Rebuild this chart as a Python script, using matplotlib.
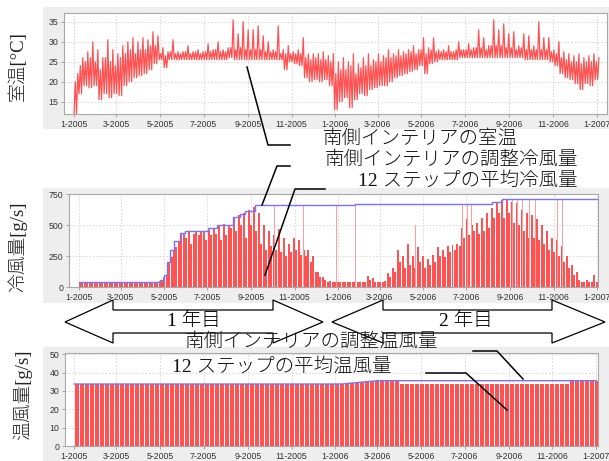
import numpy as np
import matplotlib
matplotlib.use('Agg')
import matplotlib.pyplot as plt
import matplotlib.dates as mdates
from matplotlib.patches import Rectangle, Polygon
from matplotlib.lines import Line2D

W, H = 609, 461

# ---------------- data ----------------
start = mdates.datestr2num('2005-01-01')
weeks = np.arange(105)          # weekly steps, 2005-01-01 .. 2006-12-30

# room temperature per week: low, typical upper level, spike high [deg C]
temp_lo = [12, 17, 19, 18.5, 19, 15.5, 17, 16, 17, 16.5,
           19, 20, 21, 21.5, 22, 23, 24.5, 25.5, 23.5, 25.5,
           25.5, 25.5, 25.5, 25.5, 25.5, 25.5, 25.5, 25.5, 25.5, 25.5,
           25.5, 26, 25.5, 25.5, 25.5, 25.5, 25.5, 25.5, 25.5, 25.5,
           25.5, 25.5, 23, 25, 24.5, 24, 21, 20, 20.5, 20,
           20.5, 19, 13, 15, 16, 13.5, 15.5, 17, 16.5, 18,
           18.5, 19, 19, 20, 21, 21.5, 22, 22.5, 23, 24,
           22, 24.5, 25, 25.5, 25.5, 25.5, 25.5, 26, 26, 26,
           26, 26, 26, 26, 26, 26, 26, 26, 26, 26,
           25.5, 25.5, 25.5, 25.5, 25.5, 25, 24, 22, 21, 20.5,
           19.5, 18, 19.5, 19, 20.5]
temp_band = [20, 24, 25, 26, 25, 23, 26, 25, 24, 26,
             27, 28, 27, 28, 28, 29, 29, 27, 26.5, 27.5,
             27, 27, 27.5, 27, 27.5, 27, 27.5, 27.5, 28, 27.5,
             27.5, 28.5, 28, 28.5, 28, 28, 28, 28, 27.5, 27.5,
             27.5, 27, 27, 27, 27, 27, 26, 25.5, 26, 25.5,
             25.5, 25, 22, 23, 23, 24, 22, 23.5, 24, 24,
             25, 25, 26, 26, 26.5, 26.5, 27, 27.5, 27, 28,
             27, 28, 27.5, 27.5, 27.5, 27.5, 28, 28, 28, 28,
             28.5, 28.5, 28, 29, 29, 29, 28.5, 28.5, 28, 28.5,
             28, 28, 28, 28, 28, 27.5, 27, 26, 25.5, 25,
             25, 24.5, 25, 25, 25]
temp_hi = [22, 26, 27.5, 30, 28, 26, 30.5, 28, 27, 29,
           30, 31, 30, 31, 30.5, 32.5, 31.5, 28.5, 27.5, 30.5,
           27.5, 27.5, 29, 27.5, 28, 27.5, 29.5, 28, 30, 28,
           28.5, 35.5, 32, 35, 33, 33, 34, 31.5, 30, 28,
           34, 28, 29, 27.5, 28, 31, 27, 27, 27, 27.5,
           26.5, 27, 25, 26, 25, 27, 24.5, 26, 27, 25.5,
           27, 26.5, 28, 27, 28, 27.5, 28, 29, 28, 31,
           28.5, 31, 28, 28, 29, 27.5, 30, 28, 29.5, 28.5,
           33, 31, 29, 35.5, 33, 34.5, 32, 32.5, 29, 32,
           31.5, 29, 35, 31, 31, 28, 30, 27.5, 27, 26.5,
           27, 26, 26.5, 27, 26]

# adjusted cool air flow [g/s], first and second half of each week
cool_a = [40] * 16 + [
    50, 80, 200, 300, 370, 440, 450, 430, 420, 450,
    460, 470, 500, 510, 500, 560, 580, 600, 620, 650,
    600, 500, 450, 420, 470, 400, 350, 400, 380, 300,
    300, 250, 120, 80, 40, 40, 40, 40, 40, 40,
    40, 40, 90, 70, 40, 40, 110, 150, 300, 250,
    350, 250, 320, 250, 230, 260, 320, 300, 330, 340,
    350, 480, 550, 500, 520, 560, 600, 640, 680, 700,
    700, 690, 680, 620, 600, 580, 550, 500, 450, 400,
    380, 330, 250, 180, 120, 40, 60, 40, 40]
cool_b = [40] * 16 + [
    60, 100, 240, 320, 430, 400, 350, 450, 450, 380,
    420, 430, 380, 420, 480, 450, 500, 400, 500, 450,
    350, 300, 330, 300, 280, 250, 280, 300, 260, 250,
    200, 120, 80, 60, 50, 40, 40, 40, 40, 40,
    40, 40, 60, 40, 40, 50, 80, 120, 200, 150,
    180, 150, 200, 150, 180, 200, 250, 240, 280, 300,
    330, 400, 420, 450, 430, 450, 480, 560, 600, 560,
    600, 520, 500, 450, 400, 400, 380, 350, 300, 280,
    250, 200, 150, 100, 60, 40, 40, 100, 40]
spike_dates = ['2005-09-09', '2005-09-16', '2005-10-04', '2005-11-14', '2005-11-17',
               '2005-12-30', '2006-01-18', '2006-01-21', '2006-01-26', '2006-03-28',
               '2006-04-20', '2006-06-26', '2006-07-03', '2006-07-08', '2006-07-22',
               '2006-09-04', '2006-09-11', '2006-09-18', '2006-09-28', '2006-10-07',
               '2006-11-07', '2006-11-14']
spike_vals = [660, 660, 660, 660, 660, 660, 660, 660, 660, 660,
              500, 660, 660, 660, 660, 710, 710, 710, 710, 710, 710, 710]

# 12-step average cool air flow (step breakpoints)
cool_avg_dates = ['2005-01-01', '2005-04-25', '2005-05-01', '2005-05-05', '2005-05-10',
                  '2005-05-15', '2005-05-23', '2005-05-30', '2005-07-02', '2005-07-14',
                  '2005-08-06', '2005-08-16', '2005-08-23', '2005-09-06', '2006-01-25',
                  '2006-08-06', '2006-08-20', '2007-01-01']
cool_avg_vals = [40, 60, 100, 200, 300, 370, 440, 455, 480, 505,
                 568, 590, 618, 660, 670, 688, 714, 714]

# adjusted warm air flow [g/s], weekly
warm = [33.8] * 53 + [34.0, 34.1, 34.3, 34.6, 34.9, 35.2, 35.4, 35.6] + \
       [35.6] * 4 + [33.8] * 34 + [35.6] * 6
warm_avg_dates = ['2005-01-01', '2006-01-10', '2006-03-01', '2007-01-01']
warm_avg_vals = [33.8, 33.8, 35.6, 35.6]

tick_dates = ['2005-01-01', '2005-03-01', '2005-05-01', '2005-07-01', '2005-09-01',
              '2005-11-01', '2006-01-01', '2006-03-01', '2006-05-01', '2006-07-01',
              '2006-09-01', '2006-11-01', '2007-01-01']
tick_labels = ['1-2005', '3-2005', '5-2005', '7-2005', '9-2005', '11-2005', '1-2006',
               '3-2006', '5-2006', '7-2006', '9-2006', '11-2006', '1-2007']

# ---------------- drawing ----------------
red = '#ff5252'
pink = '#ff9c9c'
blue = '#7474ff'
jp = ['Liberation Serif', 'Noto Sans CJK JP']

fig = plt.figure(figsize=(W / 100, H / 100), dpi=100)


def fx(px):
    return px / W


def fy(py):
    return 1 - py / H


def box(x0, y0, x1, y1):
    return [fx(x0), fy(y1), (x1 - x0) / W, (y1 - y0) / H]


# gray panels behind each chart
for b in [(43, 7, 609, 129), (43, 188, 609, 303), (43, 347, 609, 461)]:
    fig.patches.append(Rectangle((fx(b[0]), fy(b[3])), (b[2] - b[0]) / W, (b[3] - b[1]) / H,
                                 transform=fig.transFigure, facecolor='#eeeeee',
                                 edgecolor='none', zorder=-5))

ax1 = fig.add_axes(box(64, 13, 607, 114))
ax2 = fig.add_axes(box(69, 193.5, 597.5, 287))
ax3 = fig.add_axes(box(65, 353, 597.5, 446))

tick_x = mdates.datestr2num(tick_dates)


def style(ax, yticks, ylim, xl):
    ax.set_facecolor('white')
    ax.set_xlim(start + xl[0], start + xl[1])
    ax.set_ylim(*ylim)
    ax.set_xticks(tick_x)
    ax.set_xticklabels(tick_labels)
    ax.set_yticks(yticks)
    ax.grid(True, color='#d6d6d6', linestyle=(0, (2, 2)), linewidth=0.6)
    ax.set_axisbelow(True)
    for s in ax.spines.values():
        s.set_color('#a8a8a8')
        s.set_linewidth(0.8)
    ax.tick_params(labelsize=6.3, length=2, width=0.6, color='#999999',
                   labelcolor='#333333', pad=2)
    for lab in ax.get_xticklabels() + ax.get_yticklabels():
        lab.set_family('Liberation Sans')


# room temperature: zigzag low -> band -> low -> spike, each week
wk = start + 7 * weeks
tx = np.ravel(np.column_stack([wk, wk + 1.75, wk + 3.5, wk + 5.25]))
ty = np.ravel(np.column_stack([temp_lo, temp_band, temp_lo, temp_hi]))
ax1.plot(tx, ty, color=red, lw=0.9)
style(ax1, [15, 20, 25, 30, 35], (11.9, 37.2), (-14, 744.5))

# cool air flow
ax2.bar(wk + 0.2, cool_a, width=2.8, align='edge', color=red, lw=0)
ax2.bar(wk + 3.1, cool_b, width=2.8, align='edge', color=red, lw=0)
ax2.bar(mdates.datestr2num(spike_dates), spike_vals, width=0.9, color=pink, lw=0)
ax2.step(mdates.datestr2num(cool_avg_dates), cool_avg_vals, where='post',
         color=blue, lw=1, zorder=3)
style(ax2, [0, 250, 500, 750], (0, 756), (-14, 731))

# warm air flow
ax3.bar(wk + 0.5, warm, width=6, align='edge', color=red, lw=0)
ax3.plot(mdates.datestr2num(warm_avg_dates), warm_avg_vals, color=blue, lw=1, zorder=3)
style(ax3, [0, 10, 20, 30, 40, 50], (0, 50.7), (-13, 732))

# y labels
for px, py, s in [(18, 66, '室温[°C]'), (18, 247, '冷風量[g/s]'), (22, 395, '温風量[g/s]')]:
    fig.text(fx(px), fy(py), s, rotation=90, ha='center', va='center',
             family=jp, fontsize=13.5, color='#222222', fontweight='light')

# year arrows
for x0, xa, xb, x1 in [(65, 113, 273, 323), (332, 383, 552, 605)]:
    pts = [(x0, 322), (xa, 300), (xa, 310), (xb, 310), (xb, 300), (x1, 322),
           (xb, 343), (xb, 333), (xa, 333), (xa, 343)]
    fig.add_artist(Polygon([(fx(a), fy(b)) for a, b in pts], closed=True,
                           transform=fig.transFigure, facecolor='white',
                           edgecolor='black', lw=0.9, zorder=4))
for px, s in [(194, '1 年目'), (466, '2 年目')]:
    fig.text(fx(px), fy(321), s, ha='center', va='center', family=jp,
             fontsize=14, fontweight='light', zorder=6)

# annotations with leader lines
notes = [(323, 139, '南側インテリアの室温', 'left'),
         (578, 160, '南側インテリアの調整冷風量', 'right'),
         (578, 181, '12 ステップの平均冷風量', 'right'),
         (185, 342, '南側インテリアの調整温風量', 'left'),
         (172, 367, '12 ステップの平均温風量', 'left')]
for px, py, s, ha in notes:
    fig.text(fx(px), fy(py), s, ha=ha, va='center', family=jp, fontsize=14,
             fontweight='light', color='#111111', zorder=6)

leaders = [[(247, 67), (268, 145), (290, 145)],
           [(262, 205), (277, 166), (290, 166)],
           [(265, 275), (295, 189), (325, 189)],
           [(523, 379), (497, 351), (473, 351)],
           [(507, 410), (466, 373), (426, 373)]]
for pts in leaders:
    fig.add_artist(Line2D([fx(a) for a, b in pts], [fy(b) for a, b in pts],
                          transform=fig.transFigure, color='black', lw=1.1, zorder=5))

fig.savefig('out.png', dpi=100)
